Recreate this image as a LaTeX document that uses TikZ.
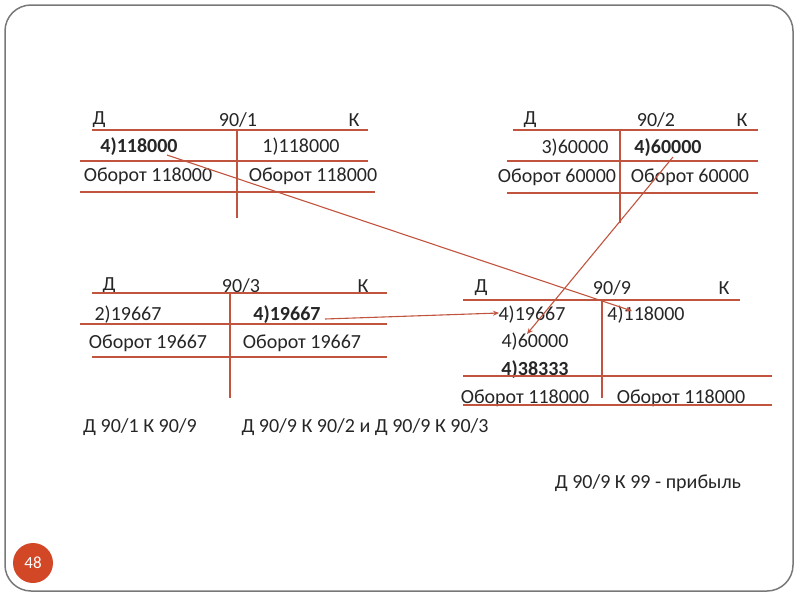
\documentclass[tikz,border=0pt]{standalone}
\usepackage{fontspec}
\setmainfont{Carlito}
\usetikzlibrary{arrows.meta}
\definecolor{ln}{RGB}{192,84,62}
\definecolor{badge}{RGB}{210,71,38}
\definecolor{frame}{RGB}{120,120,120}
\tikzset{
  tx/.style={font=\fontsize{20}{22}\selectfont, inner sep=0pt, text=black!85},
  bx/.style={tx, font=\fontsize{20}{22}\selectfont\bfseries},
  rule/.style={draw=ln, line width=1.2pt},
  link/.style={draw=ln, line width=1.1pt, -{Stealth[length=6pt,width=5pt]}},
}
\begin{document}
\begin{tikzpicture}[x=1pt,y=-1pt]
\useasboundingbox (0,0) rectangle (800,600);
\draw[frame, line width=1.5pt, rounded corners=26pt] (5,5) rectangle (793,591);
% table 90/1
\node[tx] (t1d) at (99,120) {Д};
\node[tx] (t1n) at (238,120) {90/1};
\node[tx] (t1k) at (354,120) {К};
\node[bx] (t1a) at (139,147) {4)118000};
\node[tx] (t1b) at (301,147) {1)118000};
\node[tx] (t1c) at (148,176) {Оборот 118000};
\node[tx] (t1e) at (313,176) {Оборот 118000};
\draw[rule] (92,130) -- (368,130);
\draw[rule] (80,161) -- (368,161);
\draw[rule] (80,192) -- (375,192);
\draw[rule] (237,130) -- (237,218);
% table 90/2
\node[tx] (t2d) at (530,120) {Д};
\node[tx] (t2n) at (656,120) {90/2};
\node[tx] (t2k) at (742,120) {К};
\node[tx] (t2a) at (575,148) {3)60000};
\node[bx] (t2b) at (668,148) {4)60000};
\node[tx] (t2c) at (557,177) {Оборот 60000};
\node[tx] (t2e) at (690,177) {Оборот 60000};
\draw[rule] (513,130) -- (758,130);
\draw[rule] (507,161) -- (758,161);
\draw[rule] (507,193) -- (758,193);
\draw[rule] (620,130) -- (620,223);
% table 90/3
\node[tx] (t3d) at (109,286) {Д};
\node[tx] (t3n) at (241,286) {90/3};
\node[tx] (t3k) at (363,286) {К};
\node[tx] (t3a) at (128,315) {2)19667};
\node[bx] (t3b) at (287,315) {4)19667};
\node[tx] (t3c) at (148,343) {Оборот 19667};
\node[tx] (t3e) at (302,343) {Оборот 19667};
\draw[rule] (92,293) -- (387,293);
\draw[rule] (80,324) -- (387,324);
\draw[rule] (92,357) -- (387,357);
\draw[rule] (230,292) -- (230,398);
% table 90/9
\node[tx] (t9d) at (481,288) {Д};
\node[tx] (t9n) at (612,288) {90/9};
\node[tx] (t9k) at (724,288) {К};
\node[tx] (t9a) at (532,315) {4)19667};
\node[tx] (t9b) at (646,315) {4)118000};
\node[tx] (t9c) at (535,342) {4)60000};
\node[bx] (t9f) at (535,370) {4)38333};
\node[tx] (t9g) at (525,398) {Оборот 118000};
\node[tx] (t9h) at (681,398) {Оборот 118000};
\draw[rule] (463,300) -- (740,300);
\draw[rule] (463,376) -- (772,376);
\draw[rule] (463,405) -- (772,405);
\draw[rule] (602,300) -- (602,398);
% arrows
\coordinate (s1) at (167,155);
\coordinate (e1) at (632,311);
\coordinate (s2) at (673,157);
\coordinate (e2) at (527,334);
\coordinate (s3) at (325,319);
\coordinate (e3) at (499,313);
\draw[link] (s1) -- (e1);
\draw[link] (s2) -- (e2);
\draw[link] (s3) -- (e3);
% bottom texts
\node[tx] (p1) at (140,427) {Д 90/1 К 90/9};
\node[tx] (p2) at (365,427) {Д 90/9 К 90/2 и Д 90/9 К 90/3};
\node[tx] (p3) at (648,483) {Д 90/9 К 99 - прибыль};
% badge
\node[circle, fill=badge, minimum size=40pt, inner sep=0pt, text=white, font=\fontsize{17}{19}\selectfont] (pg) at (33,563) {48};
\end{tikzpicture}
\end{document}
